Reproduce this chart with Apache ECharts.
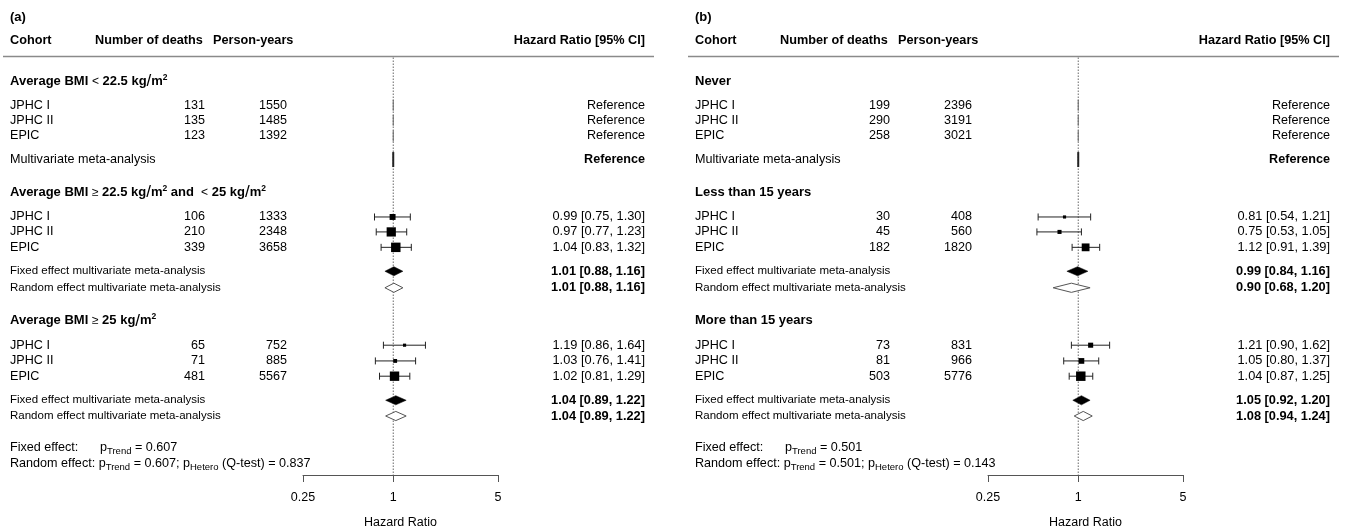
<!DOCTYPE html>
<html>
<head>
<meta charset="utf-8">
<script src="https://cdn.jsdelivr.net/npm/echarts@6/dist/echarts.min.js"></script>
<style>
  html, body { margin: 0; padding: 0; background: #fff; }
  #chart { width: 1346px; height: 529px; }
</style>
</head>
<body>
<div id="chart"></div>
<script>
// ---------- data ----------
const cohorts = ['JPHC I', 'JPHC II', 'EPIC'];
const tickValues = [0.25, 1, 5];
const referenceHR = 1;

// (a) average BMI categories
const groupsA = ['Average BMI < 22.5 kg/m²', 'Average BMI ≥ 22.5 kg/m² and  < 25 kg/m²', 'Average BMI ≥ 25 kg/m²'];
const deathsA = [[131, 135, 123], [106, 210, 339], [65, 71, 481]];
const personYearsA = [[1550, 1485, 1392], [1333, 2348, 3658], [752, 885, 5567]];
const hrA = [null, [0.99, 0.97, 1.04], [1.19, 1.03, 1.02]];
const lowerA = [null, [0.75, 0.77, 0.83], [0.86, 0.76, 0.81]];
const upperA = [null, [1.30, 1.23, 1.32], [1.64, 1.41, 1.29]];
const fixedA = [null, [1.01, 0.88, 1.16], [1.04, 0.89, 1.22]];
const randomA = [null, [1.01, 0.88, 1.16], [1.04, 0.89, 1.22]];
const pTrendA = 0.607;
const pHeteroA = 0.837;

// (b) duration categories
const groupsB = ['Never', 'Less than 15 years', 'More than 15 years'];
const deathsB = [[199, 290, 258], [30, 45, 182], [73, 81, 503]];
const personYearsB = [[2396, 3191, 3021], [408, 560, 1820], [831, 966, 5776]];
const hrB = [null, [0.81, 0.75, 1.12], [1.21, 1.05, 1.04]];
const lowerB = [null, [0.54, 0.53, 0.91], [0.90, 0.80, 0.87]];
const upperB = [null, [1.21, 1.05, 1.39], [1.62, 1.37, 1.25]];
const fixedB = [null, [0.99, 0.84, 1.16], [1.05, 0.92, 1.20]];
const randomB = [null, [0.90, 0.68, 1.20], [1.08, 0.94, 1.24]];
const pTrendB = 0.501;
const pHeteroB = 0.143;

// ---------- layout ----------
const FAMILY = '"Liberation Sans", Arial, Helvetica, sans-serif';
const LAYOUT = {
  panelLeft: [0, 685],
  col: { left: 10, deathsHead: 95, pyHead: 213, deaths: 205, py: 287, pval: 100, hr: 645 },
  rule: { start: 3, end: 654 },
  grid: { left: 303, width: 195, top: 3, height: 472 },
  yRange: [-5, 25],
  rows: {
    tag: -4.1, header: -2.6, rule: -1.6,
    groups: [
      { heading: 0, studies: [1.5, 2.45, 3.45], meta: [4.95] },
      { heading: 7.05, studies: [8.6, 9.55, 10.53], meta: [12.05, 13.1] },
      { heading: 15.2, studies: [16.75, 17.75, 18.72], meta: [20.25, 21.25] }
    ],
    pFixed: 23.25, pRandom: 24.27
  }
};

const FONTS = {
  tag: { fontSize: 13, fontWeight: 'bold' },
  head: { fontSize: 12.7, fontWeight: 'bold' },
  cell: { fontSize: 12.6 },
  meta: { fontSize: 11.5 },
  hr: { fontSize: 12.8 },
  hrBold: { fontSize: 12.8, fontWeight: 'bold' },
  refBold: { fontSize: 12.6, fontWeight: 'bold' },
  heading: { fontSize: 13, fontWeight: 'bold' },
  pline: { fontSize: 12.6 }
};

const RICH_HEADING = {
  b: { fontSize: 13, fontWeight: 'bold', fontFamily: FAMILY, fill: '#000', lineHeight: 17 },
  op: { fontSize: 12, fontFamily: FAMILY, fill: '#000', lineHeight: 17 },
  sl: { fontSize: 17, fontFamily: FAMILY, fill: '#000', lineHeight: 17 },
  sup: { fontSize: 8.5, fontWeight: 'bold', fontFamily: FAMILY, fill: '#000', lineHeight: 9, verticalAlign: 'top' }
};
const RICH_P = {
  t: { fontSize: 12.6, fontFamily: FAMILY, fill: '#000', lineHeight: 18 },
  s: { fontSize: 9.5, fontFamily: FAMILY, fill: '#000', lineHeight: 9.5, verticalAlign: 'bottom' }
};

function headingRich(s) {
  return s.split(/(<|≥|\/|²)/).filter(Boolean).map(function (tok) {
    if (tok === '<' || tok === '≥') return '{op|' + tok + '}';
    if (tok === '/') return '{sl|/}';
    if (tok === '²') return '{sup|2}';
    return '{b|' + tok + '}';
  }).join('');
}
function fmtCI(v) {
  return v[0].toFixed(2) + ' [' + v[1].toFixed(2) + ', ' + v[2].toFixed(2) + ']';
}

// builds the rows of one forest panel
function buildPanel(d) {
  const R = LAYOUT.rows;
  const texts = [], studies = [], refs = [], diamonds = [];
  texts.push({ row: R.tag, col: 'left', text: d.tag, font: 'tag' });
  texts.push({ row: R.header, col: 'left', text: 'Cohort', font: 'head' });
  texts.push({ row: R.header, col: 'deathsHead', text: 'Number of deaths', font: 'head' });
  texts.push({ row: R.header, col: 'pyHead', text: 'Person-years', font: 'head' });
  texts.push({ row: R.header, col: 'hr', text: 'Hazard Ratio [95% CI]', font: 'head', align: 'right' });

  d.groups.forEach(function (g, gi) {
    const rg = R.groups[gi];
    texts.push({ row: rg.heading, col: 'left', text: headingRich(g), rich: RICH_HEADING, font: 'heading' });
    cohorts.forEach(function (c, ci) {
      const row = rg.studies[ci];
      texts.push({ row: row, col: 'left', text: c, font: 'cell' });
      texts.push({ row: row, col: 'deaths', text: String(d.deaths[gi][ci]), font: 'cell', align: 'right' });
      texts.push({ row: row, col: 'py', text: String(d.py[gi][ci]), font: 'cell', align: 'right' });
      if (d.hr[gi]) {
        const v = [d.hr[gi][ci], d.lower[gi][ci], d.upper[gi][ci]];
        texts.push({ row: row, col: 'hr', text: fmtCI(v), font: 'hr', align: 'right' });
        studies.push([v[0], v[1], v[2], row]);
      } else {
        texts.push({ row: row, col: 'hr', text: 'Reference', font: 'cell', align: 'right' });
        refs.push([referenceHR, row, 0]);
      }
    });
    if (d.fixed[gi]) {
      texts.push({ row: rg.meta[0], col: 'left', text: 'Fixed effect multivariate meta-analysis', font: 'meta' });
      texts.push({ row: rg.meta[0], col: 'hr', text: fmtCI(d.fixed[gi]), font: 'hrBold', align: 'right' });
      diamonds.push([d.fixed[gi][0], d.fixed[gi][1], d.fixed[gi][2], rg.meta[0], 1]);
      texts.push({ row: rg.meta[1], col: 'left', text: 'Random effect multivariate meta-analysis', font: 'meta' });
      texts.push({ row: rg.meta[1], col: 'hr', text: fmtCI(d.random[gi]), font: 'hrBold', align: 'right' });
      diamonds.push([d.random[gi][0], d.random[gi][1], d.random[gi][2], rg.meta[1], 0]);
    } else {
      texts.push({ row: rg.meta[0], col: 'left', text: 'Multivariate meta-analysis', font: 'cell' });
      texts.push({ row: rg.meta[0], col: 'hr', text: 'Reference', font: 'refBold', align: 'right' });
      refs.push([referenceHR, rg.meta[0], 1]);
    }
  });

  const pt = d.pTrend.toFixed(3), ph = d.pHetero.toFixed(3);
  texts.push({ row: R.pFixed, col: 'left', text: 'Fixed effect:', font: 'pline' });
  texts.push({ row: R.pFixed, col: 'pval', text: '{t|p}{s|Trend}{t| = ' + pt + '}', rich: RICH_P, font: 'pline' });
  texts.push({ row: R.pRandom, col: 'left',
    text: '{t|Random effect: p}{s|Trend}{t| = ' + pt + '; p}{s|Hetero}{t| (Q-test) = ' + ph + '}',
    rich: RICH_P, font: 'pline' });

  // square size follows inverse-variance weight derived from the CI width
  const w = studies.map(function (s) { return 3.92 / (Math.log(s[2]) - Math.log(s[1])); });
  const wMin = Math.min.apply(null, w), wMax = Math.max.apply(null, w);
  studies.forEach(function (s, i) {
    const psize = 0.5 + (w[i] - wMin) / (wMax - wMin);
    s.push(6.3 * psize);
  });
  return { texts: texts, studies: studies, refs: refs, diamonds: diamonds };
}

const panels = [
  buildPanel({ tag: '(a)', groups: groupsA, deaths: deathsA, py: personYearsA, hr: hrA, lower: lowerA, upper: upperA,
               fixed: fixedA, random: randomA, pTrend: pTrendA, pHetero: pHeteroA }),
  buildPanel({ tag: '(b)', groups: groupsB, deaths: deathsB, py: personYearsB, hr: hrB, lower: lowerB, upper: upperB,
               fixed: fixedB, random: randomB, pTrend: pTrendB, pHetero: pHeteroB })
];

// ---------- chart ----------
const chart = echarts.init(document.getElementById('chart'), null, { renderer: 'canvas' });
const grids = [], xAxes = [], yAxes = [], series = [];

panels.forEach(function (p, i) {
  const left = LAYOUT.panelLeft[i];
  grids.push({ left: left + LAYOUT.grid.left, width: LAYOUT.grid.width, top: LAYOUT.grid.top, height: LAYOUT.grid.height,
               containLabel: false, outerBoundsMode: 'none' });
  xAxes.push({
    type: 'log', logBase: 10, gridIndex: i, position: 'bottom',
    min: tickValues[0], max: tickValues[tickValues.length - 1],
    axisLine: { show: true, onZero: false, lineStyle: { color: '#555', width: 1 } },
    axisTick: { show: true, customValues: tickValues, length: 7, lineStyle: { color: '#555', width: 1 } },
    axisLabel: { customValues: tickValues, formatter: function (v) { return String(+(+v).toPrecision(3)); },
                 fontSize: 12.5, color: '#000', margin: 16, fontFamily: FAMILY },
    splitLine: { show: false }, minorTick: { show: false }, minorSplitLine: { show: false },
    name: 'Hazard Ratio', nameLocation: 'middle', nameGap: 41.5,
    nameTextStyle: { fontSize: 12.5, color: '#000', fontFamily: FAMILY }
  });
  yAxes.push({ type: 'value', gridIndex: i, inverse: true, min: LAYOUT.yRange[0], max: LAYOUT.yRange[1], show: false });

  const axisIdx = { xAxisIndex: i, yAxisIndex: i };

  // header rule and dotted line of no effect
  series.push(Object.assign({
    type: 'custom', silent: true, z: 1,
    data: [[referenceHR, LAYOUT.rows.rule]],
    encode: { x: 0, y: 1 },
    renderItem: function (params, api) {
      const top = api.coord([api.value(0), api.value(1)]);
      const bottom = api.coord([api.value(0), LAYOUT.yRange[1]]);
      return { type: 'group', children: [
        { type: 'line', shape: { x1: left + LAYOUT.rule.start, y1: top[1], x2: left + LAYOUT.rule.end, y2: top[1] },
          style: { stroke: '#8a8a8a', lineWidth: 1.6 } },
        { type: 'line', shape: { x1: top[0], y1: top[1] + 1, x2: bottom[0], y2: bottom[1] },
          style: { stroke: '#666', lineWidth: 1, lineDash: [1.5, 1.5] } }
      ] };
    }
  }, axisIdx));

  // table text
  series.push(Object.assign({
    type: 'custom', silent: true, z: 3,
    data: p.texts.map(function (t) { return [referenceHR, t.row]; }),
    encode: { x: 0, y: 1 },
    renderItem: function (params, api) {
      const t = p.texts[params.dataIndex];
      const y = api.coord([api.value(0), api.value(1)])[1];
      const style = Object.assign({ text: t.text, fill: '#000', fontFamily: FAMILY,
        align: t.align || 'left', verticalAlign: 'middle' }, FONTS[t.font]);
      if (t.rich) style.rich = t.rich;
      return { type: 'text', x: left + LAYOUT.col[t.col], y: y, style: style };
    }
  }, axisIdx));

  // reference rows (HR fixed at 1)
  series.push(Object.assign({
    type: 'custom', silent: true, z: 2,
    data: p.refs,
    encode: { x: 0, y: 1 },
    renderItem: function (params, api) {
      const c = api.coord([api.value(0), api.value(1)]);
      const meta = api.value(2) === 1;
      const h = meta ? 7.5 : 5.5;
      return { type: 'line', shape: { x1: c[0], y1: c[1] - h, x2: c[0], y2: c[1] + h },
        style: { stroke: meta ? '#222' : '#6a6a6a', lineWidth: meta ? 2 : 1.1 } };
    }
  }, axisIdx));

  // study estimates with 95% CI
  series.push(Object.assign({
    type: 'custom', silent: true, z: 4,
    data: p.studies,
    encode: { x: [0, 1, 2], y: 3 },
    renderItem: function (params, api) {
      const row = api.value(3), size = api.value(4);
      const c = api.coord([api.value(0), row]);
      const lo = api.coord([api.value(1), row]);
      const hi = api.coord([api.value(2), row]);
      const cap = 3.5, ls = { stroke: '#222', lineWidth: 1 };
      return { type: 'group', children: [
        { type: 'line', shape: { x1: lo[0], y1: c[1], x2: hi[0], y2: c[1] }, style: ls },
        { type: 'line', shape: { x1: lo[0], y1: c[1] - cap, x2: lo[0], y2: c[1] + cap }, style: ls },
        { type: 'line', shape: { x1: hi[0], y1: c[1] - cap, x2: hi[0], y2: c[1] + cap }, style: ls },
        { type: 'rect', shape: { x: c[0] - size / 2, y: c[1] - size / 2, width: size, height: size }, style: { fill: '#000' } }
      ] };
    }
  }, axisIdx));

  // pooled estimates (fixed: filled, random: open)
  series.push(Object.assign({
    type: 'custom', silent: true, z: 4,
    data: p.diamonds,
    encode: { x: [0, 1, 2], y: 3 },
    renderItem: function (params, api) {
      const row = api.value(3), filled = api.value(4) === 1;
      const c = api.coord([api.value(0), row]);
      const lo = api.coord([api.value(1), row]);
      const hi = api.coord([api.value(2), row]);
      const h = 4.6;
      return { type: 'polygon',
        shape: { points: [[lo[0], c[1]], [c[0], c[1] - h], [hi[0], c[1]], [c[0], c[1] + h]] },
        style: filled ? { fill: '#000', stroke: '#000', lineWidth: 0.5 } : { fill: '#fff', stroke: '#555', lineWidth: 1 } };
    }
  }, axisIdx));
});

chart.setOption({
  animation: false,
  backgroundColor: '#fff',
  grid: grids,
  xAxis: xAxes,
  yAxis: yAxes,
  series: series
});
</script>
</body>
</html>
